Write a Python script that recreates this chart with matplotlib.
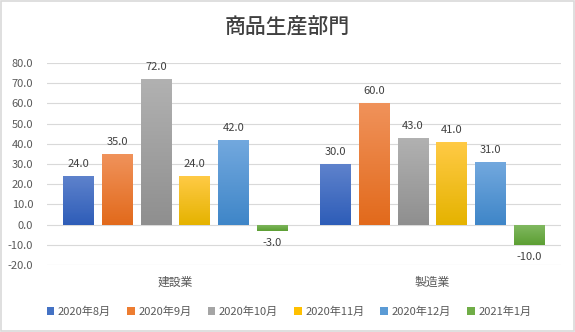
import numpy as np
import matplotlib
matplotlib.use("Agg")
import matplotlib.pyplot as plt
from matplotlib.patches import Rectangle, Patch
from matplotlib.colors import LinearSegmentedColormap

plt.rcParams['font.family'] = ['Noto Sans CJK JP', 'DejaVu Sans']

# data
categories = ["建設業", "製造業"]
series = ["2020年8月", "2020年9月", "2020年10月", "2020年11月", "2020年12月", "2021年1月"]
values = [
    [24, 30],
    [35, 60],
    [72, 43],
    [24, 41],
    [42, 31],
    [-3, -10],
]
# (top colour, bottom colour) for the gradient fill
grad = [
    ("#5E82CC", "#2E5DB8"),
    ("#F0925A", "#E26A1C"),
    ("#B1B1B1", "#8F8F8F"),
    ("#FFCA45", "#E5B300"),
    ("#72A8DE", "#3F86C8"),
    ("#82B962", "#5C9F33"),
]
legend_colors = ["#4472C4", "#ED7D31", "#A5A5A5", "#FFC000", "#5B9BD5", "#70AD47"]

fig = plt.figure(figsize=(5.75, 3.32), dpi=100)
ax = fig.add_axes([47/575, 1-265/332, (561-47)/575, (265-63)/332])

pitch = 0.151
width = 0.12
x = np.arange(len(categories))
grad_img = np.linspace(0, 1, 64).reshape(-1, 1)

for i, name in enumerate(series):
    pos = x + (i - 2.5) * pitch
    bars = ax.bar(pos, values[i], width, color=legend_colors[i], label=name, zorder=2)
    cmap = LinearSegmentedColormap.from_list("g%d" % i, [grad[i][0], grad[i][1]])
    for b, v in zip(bars, values[i]):
        b.set_facecolor("none")
        b.set_edgecolor("none")
        x0 = b.get_x()
        top = max(v, 0)
        bot = min(v, 0)
        im = ax.imshow(grad_img, cmap=cmap, aspect="auto",
                       extent=[x0, x0 + width, bot, top], zorder=2)
        im.set_clip_path(b)
        if v >= 0:
            ax.annotate("%.1f" % v, (x0 + width/2, v), xytext=(0, 5),
                        textcoords="offset points", ha="center", va="bottom",
                        fontsize=8, color="#404040")
        else:
            ax.annotate("%.1f" % v, (x0 + width/2, v), xytext=(0, -5),
                        textcoords="offset points", ha="center", va="top",
                        fontsize=8, color="#404040")

ax.set_xlim(-0.5, 1.5)
ax.set_ylim(-20, 80)
ax.set_yticks(np.arange(-20, 81, 10))
ax.set_yticklabels(["%.1f" % t for t in np.arange(-20, 81, 10)])
ax.set_xticks(x)
ax.set_xticklabels(categories)
ax.tick_params(axis="both", length=0, labelsize=8, labelcolor="#595959")
ax.tick_params(axis="y", pad=10)
ax.tick_params(axis="x", pad=8, labelsize=8.5)
ax.grid(axis="y", color="#D9D9D9", linewidth=0.8, zorder=0)
ax.set_axisbelow(True)
for s in ax.spines.values():
    s.set_visible(False)

fig.text(0.5, 1-28/332, "商品生産部門", ha="center", va="center", fontsize=15,
         color="#404040", fontweight="medium")

handles = [Patch(facecolor=c, edgecolor="none") for c in legend_colors]
fig.legend(handles, series, loc="center", bbox_to_anchor=(289/575, 1-312/332), ncol=6,
           frameon=False, fontsize=8, handlelength=0.7, handleheight=0.7,
           handletextpad=0.3, columnspacing=1.45, labelcolor="#595959")

fig.patches.append(Rectangle((0.001, 0.002), 0.997, 0.995, transform=fig.transFigure,
                             fill=False, edgecolor="#D9D9D9", linewidth=1.2))

fig.savefig("out.png", dpi=100)
